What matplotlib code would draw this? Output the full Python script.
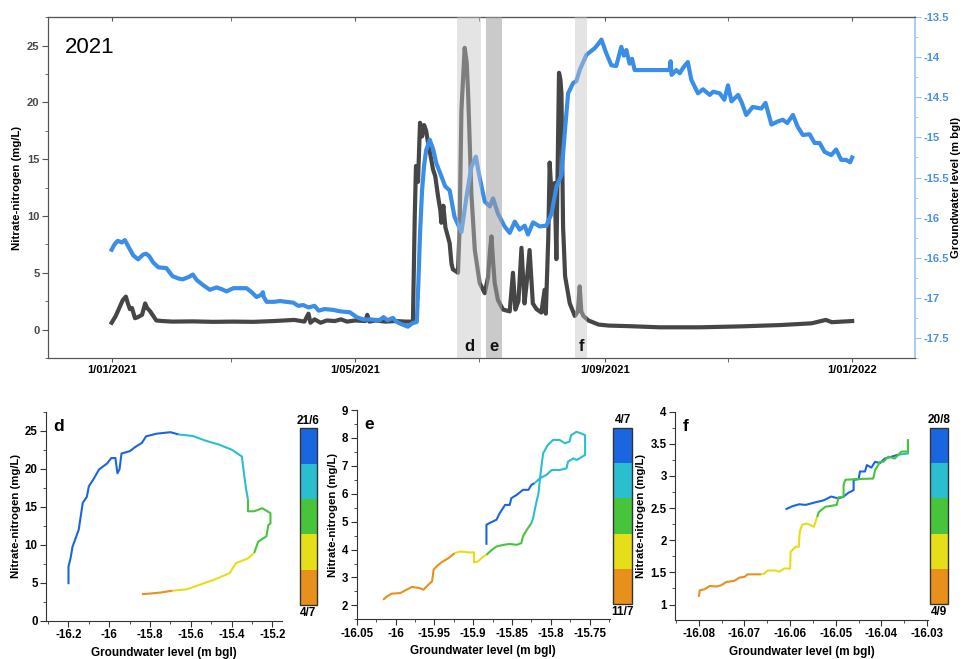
import numpy as np
import matplotlib
matplotlib.use("Agg")
import matplotlib.pyplot as plt
import matplotlib.dates as mdates
import matplotlib.transforms as mtransforms
from matplotlib.colors import ListedColormap
from matplotlib.ticker import MultipleLocator, FixedLocator
import matplotlib as mpl
from datetime import datetime

plt.rcParams["font.family"] = ["Liberation Sans", "DejaVu Sans"]
plt.rcParams["axes.unicode_minus"] = False

# ---------------- 2021 time series (days since 1 Jan 2021) ----------------
no3_day = [0, 2, 4, 5.5, 7, 8, 9, 10, 11.5, 13, 15, 16.5, 17.5, 19, 20.5, 22, 25, 30, 40, 50,
           60, 70, 80, 85, 90, 95, 97, 98, 100, 103, 106, 110, 113, 116, 120, 125, 126, 127,
           130, 135, 140, 145, 148.5, 149.4, 150, 151, 152, 153, 154, 155, 156, 157.5, 158.4,
           159.5, 160.9, 162, 162.5, 163.5, 164.5, 166.6, 167.5, 168.2, 170.7, 171.5, 172.4,
           174, 175, 175.7, 177.3, 179, 181.4, 183.9, 184.8, 185.5, 186.5, 187.2, 188, 188.8,
           190.4, 192.9, 196.2, 197.8, 199, 200.5, 202, 203.5, 204.5, 206, 207.6, 209.4, 211.8,
           213.4, 214, 215.2, 215.9, 217.2, 218.4, 219.2, 220.5, 221.2, 221.7, 222.5, 223.5,
           225.8, 228.3, 229.8, 230.7, 231.5, 232.5, 235, 240, 245, 255, 270, 290, 310, 330,
           345, 352, 355, 365]
no3_val = [0.6, 1.2, 2.0, 2.6, 2.9, 2.3, 1.8, 1.9, 1.0, 1.1, 1.3, 2.3, 1.9, 1.6, 1.2, 0.8, 0.75,
           0.7, 0.72, 0.68, 0.7, 0.68, 0.75, 0.8, 0.85, 0.7, 1.4, 0.6, 0.9, 0.6, 0.8, 0.75, 0.9,
           0.7, 0.8, 0.75, 1.3, 0.7, 0.8, 0.7, 0.75, 0.7, 0.7, 10.0, 14.4, 13.0, 18.2, 17.0,
           18.0, 17.5, 16.4, 15.0, 14.1, 13.5, 11.7, 10.5, 9.4, 10.9, 9.0, 7.6, 5.8, 5.3, 5.0,
           9.0, 19.3, 24.8, 23.5, 20.8, 12.0, 7.0, 4.1, 3.2, 4.0, 4.6, 7.0, 8.2, 6.0, 4.1, 2.6,
           1.76, 1.6, 5.0, 1.76, 2.5, 7.2, 2.3, 4.0, 7.0, 2.3, 1.8, 1.5, 3.5, 1.4, 8.0, 14.7,
           10.6, 12.9, 6.2, 22.6, 22.0, 20.8, 9.1, 4.7, 2.3, 1.2, 1.6, 3.8, 1.6, 1.2, 0.8, 0.44,
           0.35, 0.3, 0.2, 0.2, 0.28, 0.4, 0.55, 0.85, 0.65, 0.75]

gw_day = [0, 1.5, 3, 5, 6.5, 8, 10.6, 13, 15.6, 17, 18.5, 20.5, 23, 27, 30, 33, 35, 38, 40, 42,
          45, 48.4, 51.7, 54, 56.6, 60, 66.5, 69, 71.4, 74, 74.5, 75, 76.4, 80, 83, 86, 89.5,
          92, 94.4, 97, 100, 102, 105, 109, 113, 117.4, 120.7, 124, 128, 132, 134, 136, 138.6,
          140, 142, 146, 148, 150.4, 151.2, 152, 153, 154, 155, 156.8, 158.5, 160, 162, 164.4,
          166.6, 169, 172.4, 174.9, 177.3, 179.5, 181.4, 183.9, 186.4, 188, 190.4, 193.7,
          196.2, 198.7, 201.1, 203.6, 205.2, 207.7, 211, 214.3, 216.8, 219.3, 221.7, 223.3,
          225, 227.5, 229, 230.7, 234, 236, 238, 240, 241.4, 243.8, 246.3, 248.7, 251.2,
          252.5, 253.7, 255.3, 256.5, 257.8, 265, 275, 275.5, 276, 278.3, 280, 282, 284,
          285.7, 289, 291.5, 294.8, 296.5, 299.7, 302, 303.8, 305.5, 308.8, 310.5, 312.8,
          316, 320.2, 322.3, 325.2, 328.4, 330.8, 333, 335.8, 338.2, 340.7, 344, 346.5, 349,
          351.4, 354.7, 357.1, 359.6, 362, 364, 365]
gw_val = [-16.40, -16.33, -16.29, -16.31, -16.28, -16.35, -16.47, -16.52, -16.46, -16.45, -16.48,
          -16.56, -16.62, -16.63, -16.73, -16.76, -16.77, -16.74, -16.71, -16.78, -16.84, -16.90,
          -16.87, -16.89, -16.92, -16.88, -16.88, -16.93, -16.99, -16.96, -16.93, -16.99, -17.05,
          -17.05, -17.04, -17.05, -17.06, -17.10, -17.09, -17.12, -17.10, -17.16, -17.14, -17.15,
          -17.17, -17.18, -17.24, -17.27, -17.27, -17.28, -17.24, -17.28, -17.25, -17.29, -17.32,
          -17.36, -17.32, -17.30, -16.80, -16.20, -15.66, -15.35, -15.16, -15.03, -15.15, -15.32,
          -15.45, -15.61, -15.66, -15.99, -16.18, -15.74, -15.37, -15.24, -15.50, -15.80, -15.86,
          -15.76, -15.95, -16.11, -16.19, -16.05, -16.15, -16.10, -16.21, -16.06, -16.11, -16.10,
          -15.95, -15.61, -15.47, -14.95, -14.45, -14.32, -14.30, -14.16, -13.97, -13.93, -13.89,
          -13.83, -13.78, -13.95, -14.10, -14.11, -13.87, -13.98, -13.91, -14.08, -14.02, -14.16,
          -14.16, -14.16, -14.05, -14.22, -14.16, -14.20, -14.12, -14.06, -14.28, -14.45, -14.40,
          -14.47, -14.43, -14.45, -14.53, -14.35, -14.55, -14.47, -14.56, -14.72, -14.62, -14.64,
          -14.57, -14.84, -14.80, -14.78, -14.82, -14.72, -14.87, -14.97, -14.96, -15.07, -15.07,
          -15.18, -15.22, -15.15, -15.28, -15.28, -15.31, -15.25]

# shaded event windows (start day, end day, label, shade colour, alpha)
event_start = [170.2, 184.7, 228.2]
event_end = [182.2, 192.5, 234.5]
event_label = ["d", "e", "f"]
event_color = ["#c4c4c4", "#a0a0a0", "#c4c4c4"]
event_alpha = [0.45, 0.55, 0.45]

date_ticks = ["2021-01-01", "2021-05-01", "2021-09-01", "2022-01-01"]
date_tick_labels = ["1/01/2021", "1/05/2021", "1/09/2021", "1/01/2022"]
date_minor = ["2021-03-01", "2021-07-01", "2021-11-01"]

# ---------------- hysteresis loops (groundwater level vs nitrate) ----------------
stage_colors = ["#1a66e0", "#2bbecf", "#47c43c", "#e6de18", "#e8901c"]

d_gw = [-16.20, -16.20, -16.19, -16.18, -16.15, -16.13, -16.11, -16.10, -16.08, -16.05, -16.01,
        -15.99, -15.97, -15.96, -15.95, -15.94, -15.90, -15.87, -15.84, -15.82, -15.77, -15.70,
        -15.66, -15.59, -15.53, -15.46, -15.40, -15.35, -15.34, -15.33,
        -15.32, -15.32, -15.29, -15.25, -15.21, -15.21, -15.22, -15.23, -15.27,
        -15.29, -15.32, -15.38, -15.41, -15.49, -15.56, -15.62,
        -15.69, -15.75, -15.83, -15.84]
d_no3 = [4.8, 7.1, 8.2, 9.75, 11.95, 15.5, 16.3, 17.7, 18.5, 19.9, 20.7, 21.4, 21.4, 19.4, 19.9,
         22.0, 22.3, 22.9, 23.4, 24.25, 24.6, 24.8,
         24.5, 24.3, 23.7, 23.15, 22.5, 21.6, 19.4, 17.4,
         15.9, 14.4, 14.4, 14.8, 14.15, 12.8, 12.6, 11.1, 10.4,
         8.9, 8.2, 7.55, 6.25, 5.35, 4.7, 4.13,
         3.95, 3.7, 3.5, 3.5]
d_sizes = [22, 8, 9, 7, 4]
d_dates = ["21/6", "4/7"]

e_gw = [-15.883, -15.883, -15.879, -15.870, -15.866, -15.859, -15.853, -15.851, -15.844, -15.836,
        -15.829, -15.825,
        -15.821, -15.814, -15.806, -15.799, -15.789, -15.780, -15.778, -15.771, -15.767, -15.763,
        -15.756, -15.756, -15.761, -15.767, -15.774, -15.776, -15.782, -15.789, -15.797, -15.804,
        -15.810, -15.812, -15.814, -15.816, -15.819, -15.823,
        -15.825, -15.831, -15.836, -15.838, -15.844, -15.853, -15.861, -15.870, -15.876,
        -15.883, -15.887, -15.894, -15.899, -15.899, -15.906, -15.917,
        -15.924, -15.932, -15.941, -15.947, -15.951, -15.953, -15.960, -15.964, -15.969, -15.979,
        -15.986, -15.994, -16.005, -16.011, -16.016]
e_no3 = [4.17, 4.89, 4.95, 5.07, 5.30, 5.60, 5.60, 5.84, 5.96, 6.14, 6.14, 6.32,
         6.38, 6.56, 6.67, 6.85, 6.85, 6.91, 7.15, 7.27, 7.21, 7.27, 7.39, 8.10, 8.16, 8.22, 8.10,
         7.87, 7.81, 7.93, 7.93, 7.75, 7.45, 7.03, 6.56, 6.02, 5.66, 5.12,
         4.95, 4.71, 4.47, 4.23, 4.17, 4.20, 4.17, 4.11, 3.99,
         3.81, 3.75, 3.57, 3.54, 3.90, 3.90, 3.93,
         3.87, 3.69, 3.54, 3.40, 3.28, 2.86, 2.68, 2.56, 2.62, 2.66, 2.56, 2.44, 2.42, 2.32, 2.20]
e_sizes = [12, 26, 9, 7, 15]
e_dates = ["4/7", "11/7"]

f_gw = [-16.0610, -16.0595, -16.0580, -16.0566, -16.0545, -16.0527, -16.0510, -16.0494, -16.0483,
        -16.0472, -16.0461, -16.0461, -16.0450, -16.0447, -16.0436, -16.0432, -16.0422, -16.0414,
        -16.0403, -16.0393, -16.0378,
        -16.0364, -16.0342,
        -16.0342, -16.0342, -16.0356, -16.0371, -16.0385, -16.0393, -16.0396, -16.0403, -16.0414,
        -16.0418, -16.0458, -16.0479, -16.0483, -16.0483, -16.0494, -16.0498, -16.0523, -16.0537,
        -16.0541, -16.0548, -16.0563, -16.0574, -16.0579, -16.0581, -16.0588, -16.0599, -16.0600,
        -16.0613, -16.0624, -16.0631, -16.0649, -16.0657,
        -16.0664, -16.0682, -16.0693, -16.0700, -16.0711, -16.0722, -16.0740, -16.0751, -16.0762,
        -16.0776, -16.0787, -16.0798, -16.0800]
f_no3 = [2.48, 2.53, 2.56, 2.55, 2.59, 2.62, 2.68, 2.65, 2.68, 2.74, 2.78, 2.94, 2.95, 3.07, 3.07,
         3.17, 3.13, 3.22, 3.20, 3.27, 3.30,
         3.33, 3.35,
         3.57, 3.38, 3.38, 3.27, 3.30, 3.24, 3.22, 3.22, 3.09, 2.96, 2.95, 2.94, 2.86, 2.67, 2.67,
         2.55, 2.52, 2.44,
         2.36, 2.21, 2.26, 2.24, 2.13, 1.90, 1.90, 1.82, 1.56, 1.56, 1.51, 1.53, 1.53, 1.48,
         1.47, 1.47, 1.47, 1.43, 1.42, 1.37, 1.35, 1.30, 1.28, 1.29, 1.24, 1.22, 1.12]
f_sizes = [21, 2, 18, 14, 13]
f_dates = ["20/8", "4/9"]

# ---------------- styling ----------------
BLACK_LINE = "#464646"
BLUE_LINE = "#3a8ee8"
BLUE_AXIS = "#9cc4f0"
BLUE_TEXT = "#4a90e2"
SPINE = "#555555"
TICK_FS = 8
LABEL_FS = 8.2

fig = plt.figure(figsize=(9.63, 6.59), dpi=100)

# ---- top time series ----
ax = fig.add_axes([0.0498, 0.4568, 0.9002, 0.5172])
ax2 = ax.twinx()
base = mdates.date2num(datetime(2021, 1, 1))
ax.plot(base + np.array(no3_day), no3_val, color=BLACK_LINE, lw=3.0, zorder=2,
        solid_joinstyle="round")
ax2.plot(base + np.array(gw_day), gw_val, color=BLUE_LINE, lw=3.0, zorder=2,
         solid_joinstyle="round")

ax.set_xlim(base - 31.4, base + 395.9)
ax.set_ylim(-2.5, 27.5)
ax2.set_ylim(-17.75, -13.5)

label_tf = mtransforms.blended_transform_factory(ax2.transData, ax2.transAxes)
for s, e, lab, c, a in zip(event_start, event_end, event_label, event_color, event_alpha):
    ax2.axvspan(base + s, base + e, color=c, alpha=a, lw=0, zorder=5)
    ax2.text(base + (s + e) / 2, 0.033, lab, transform=label_tf, ha="center", va="center",
             fontsize=12, fontweight="bold", color="#111111", zorder=6)

ax.set_xticks([mdates.date2num(np.datetime64(d)) for d in date_ticks])
ax.set_xticklabels(date_tick_labels, fontsize=TICK_FS, fontweight="bold")
ax.xaxis.set_minor_locator(FixedLocator([mdates.date2num(np.datetime64(d)) for d in date_minor]))
ax.tick_params(axis="x", which="both", direction="out", length=3, color=SPINE, pad=2)

top = ax.secondary_xaxis("top")
top.set_xticks(ax.get_xticks())
top.xaxis.set_minor_locator(FixedLocator([mdates.date2num(np.datetime64(d)) for d in date_minor]))
top.tick_params(axis="x", which="both", direction="in", length=3, color=SPINE, labeltop=False)
top.spines["top"].set_color(SPINE)

ax.set_yticks([0, 5, 10, 15, 20, 25])
ax.yaxis.set_minor_locator(MultipleLocator(2.5))
ax.tick_params(axis="y", which="major", direction="out", length=4, color=SPINE,
               labelsize=TICK_FS, labelcolor="#4a4a4a", pad=2)
ax.tick_params(axis="y", which="minor", direction="out", length=2, color=SPINE)
for lbl in ax.get_yticklabels():
    lbl.set_fontweight("bold")
ax.set_ylabel("Nitrate-nitrogen (mg/L)", fontsize=LABEL_FS, fontweight="bold", labelpad=4)

ax2.yaxis.set_major_locator(MultipleLocator(0.5))
ax2.yaxis.set_minor_locator(MultipleLocator(0.25))
ax2.tick_params(axis="y", which="major", direction="out", length=4, color=BLUE_AXIS,
                labelsize=TICK_FS, labelcolor=BLUE_TEXT, pad=2)
ax2.tick_params(axis="y", which="minor", direction="out", length=2, color=BLUE_AXIS)
ax2.yaxis.set_major_formatter(mpl.ticker.FuncFormatter(lambda v, p: f"{v:g}"))
for lbl in ax2.get_yticklabels():
    lbl.set_fontweight("bold")
ax2.set_ylabel("Groundwater level (m bgl)", fontsize=LABEL_FS, fontweight="bold", labelpad=2)

for name in ["left", "bottom", "top"]:
    ax.spines[name].set_color(SPINE)
    ax2.spines[name].set_color(SPINE)
ax.spines["right"].set_visible(False)
ax2.spines["right"].set_color(BLUE_AXIS)
ax2.spines["right"].set_linewidth(1.2)

ax.text(0.02, 0.91, "2021", transform=ax.transAxes, fontsize=16, ha="left", va="center")

# ---- hysteresis panels ----
panels = [
    dict(gw=d_gw, no3=d_no3, sizes=d_sizes, dates=d_dates, name="d",
         rect=[0.0478, 0.0581, 0.2447, 0.3172], cbar=[0.3115, 0.0819, 0.0175, 0.2681],
         xlim=(-16.31, -15.155), ylim=(0, 27.5), xmin=0.1, ymin=2.5,
         xticks=[-16.2, -16.0, -15.8, -15.6, -15.4, -15.2], yticks=[0, 5, 10, 15, 20, 25]),
    dict(gw=e_gw, no3=e_no3, sizes=e_sizes, dates=e_dates, name="e",
         rect=[0.3704, 0.0602, 0.2630, 0.3176], cbar=[0.6369, 0.0835, 0.0191, 0.2670],
         xlim=(-16.05, -15.724), ylim=(1.5, 9), xmin=0.025, ymin=0.5,
         xticks=[-16.05, -16.0, -15.95, -15.9, -15.85, -15.8, -15.75],
         yticks=[2, 3, 4, 5, 6, 7, 8, 9]),
    dict(gw=f_gw, no3=f_no3, sizes=f_sizes, dates=f_dates, name="f",
         rect=[0.7010, 0.0592, 0.2627, 0.3161], cbar=[0.9657, 0.0835, 0.0190, 0.2670],
         xlim=(-16.0852, -16.0298), ylim=(0.76, 4), xmin=0.005, ymin=0.25,
         xticks=[-16.08, -16.07, -16.06, -16.05, -16.04, -16.03],
         yticks=[1, 1.5, 2, 2.5, 3, 3.5, 4]),
]

for p in panels:
    a = fig.add_axes(p["rect"])
    gw = np.array(p["gw"])
    no3 = np.array(p["no3"])
    start = 0
    for k, n in enumerate(p["sizes"]):
        stop = min(start + n + 1, len(gw))
        a.plot(gw[start:stop], no3[start:stop], color=stage_colors[k], lw=1.5,
               solid_joinstyle="round", solid_capstyle="butt")
        start += n
    a.set_xlim(*p["xlim"])
    a.set_ylim(*p["ylim"])
    a.set_xticks(p["xticks"])
    a.set_xticklabels([f"{v:g}" for v in p["xticks"]])
    a.set_yticks(p["yticks"])
    a.set_yticklabels([f"{v:g}" for v in p["yticks"]])
    a.xaxis.set_minor_locator(MultipleLocator(p["xmin"]))
    a.yaxis.set_minor_locator(MultipleLocator(p["ymin"]))
    a.tick_params(which="major", direction="out", length=4, color="#333333",
                  labelsize=8.3, pad=2)
    a.tick_params(which="minor", direction="out", length=2, color="#333333")
    for lbl in a.get_xticklabels() + a.get_yticklabels():
        lbl.set_fontweight("bold")
    a.spines["top"].set_visible(False)
    a.spines["right"].set_visible(False)
    a.spines["left"].set_color("#333333")
    a.spines["bottom"].set_color("#333333")
    a.set_xlabel("Groundwater level (m bgl)", fontsize=8.5, fontweight="bold", labelpad=4)
    a.set_ylabel("Nitrate-nitrogen (mg/L)", fontsize=LABEL_FS, fontweight="bold", labelpad=3)
    a.text(0.03, 0.93, p["name"], transform=a.transAxes, fontsize=12.5, fontweight="bold",
           ha="left", va="center")

    cax = fig.add_axes(p["cbar"])
    cmap = ListedColormap(stage_colors[::-1])
    cb = mpl.colorbar.ColorbarBase(cax, cmap=cmap, orientation="vertical")
    cb.set_ticks([])
    cb.outline.set_edgecolor("#333333")
    cb.outline.set_linewidth(1.0)
    cax.text(0.5, 1.01, p["dates"][0], transform=cax.transAxes, ha="center", va="bottom",
             fontsize=8.5, fontweight="bold")
    cax.text(0.5, -0.01, p["dates"][1], transform=cax.transAxes, ha="center", va="top",
             fontsize=8.5, fontweight="bold")

fig.savefig("out.png", dpi=100)
